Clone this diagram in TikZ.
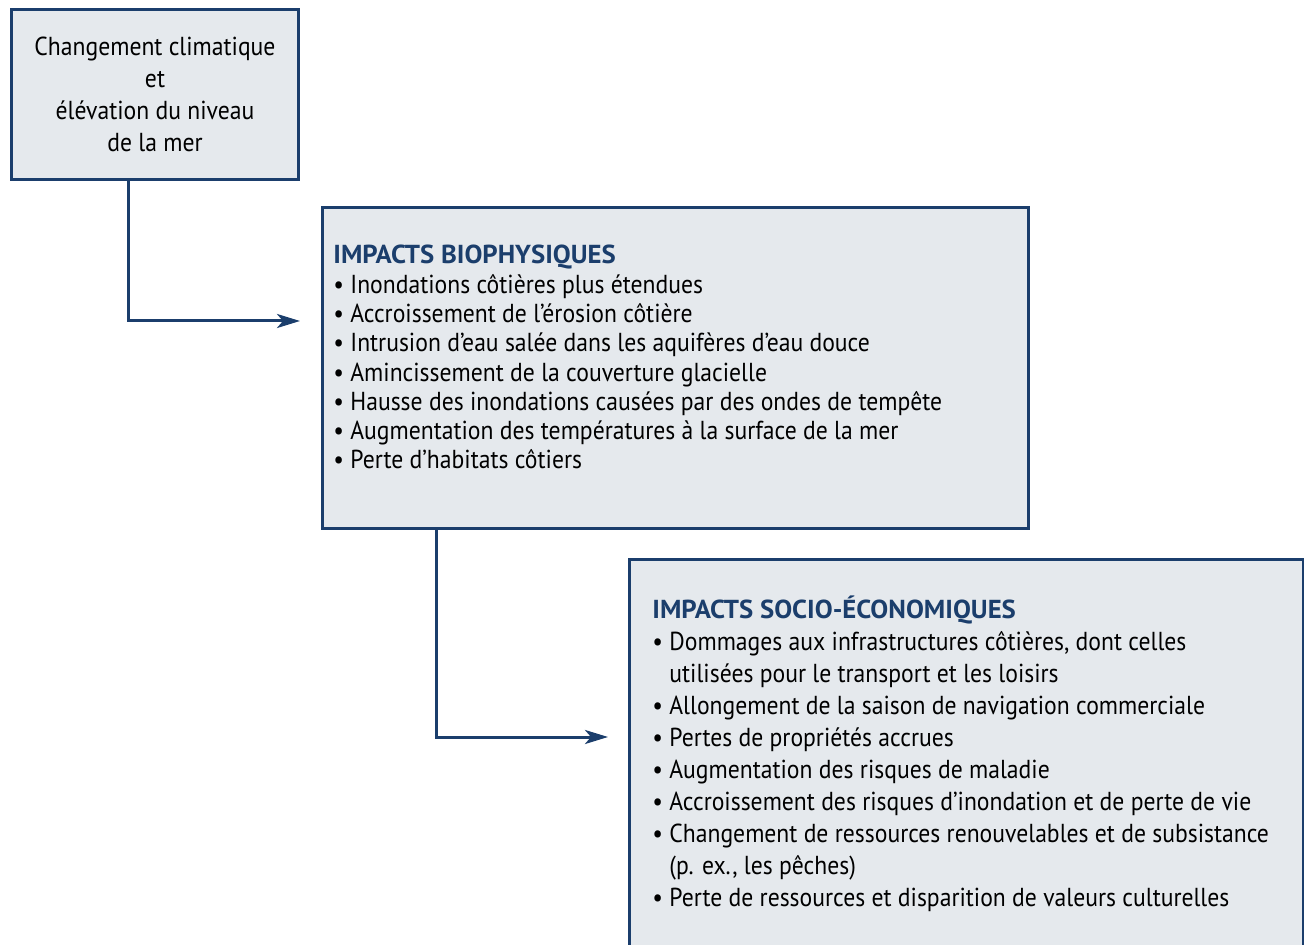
\documentclass[tikz,border=0pt]{standalone}
\usepackage{fontspec}
\setmainfont{PT Sans}[FakeStretch=0.91, BoldFeatures={FakeStretch=1.03}]
\usetikzlibrary{arrows.meta}
\definecolor{deepblue}{HTML}{1B3E6C}
\definecolor{paleblue}{HTML}{E5E9ED}
\tikzset{
  panel/.style={draw=deepblue, line width=1.5pt, fill=paleblue, anchor=north west,
    inner sep=0pt},
  itemlist/.style={anchor=base west, align=left, inner sep=0pt},
  link/.style={draw=deepblue, line width=1.5pt,
    -{Stealth[length=11.5pt,width=7pt,inset=3pt]}},
}
\newcommand{\heading}[1]{{\bfseries\color{deepblue}#1}}
\newcommand{\more}{\hphantom{\textbullet\ }}

\begin{document}
\begin{tikzpicture}[x=0.5pt,y=-0.5pt]
  \useasboundingbox (0,0) rectangle (1304,945);

  \node[panel, align=center, minimum width=143.5pt, minimum height=85pt,
    font=\fontsize{13}{16}\selectfont] (cause) at (10,8)
    {Changement climatique\\et\\élévation du niveau\\de la mer};

  % lists sit on the baseline of their last line
  \node[panel, minimum width=353pt, minimum height=160.5pt] (biophys) at (321,206) {};
  \node[itemlist, font=\fontsize{13}{14.65}\selectfont] (biophysList) at (333,469)
    {\heading{IMPACTS BIOPHYSIQUES}\\
     \textbullet\ Inondations côtières plus étendues\\
     \textbullet\ Accroissement de l’érosion côtière\\
     \textbullet\ Intrusion d’eau salée dans les aquifères d’eau douce\\
     \textbullet\ Amincissement de la couverture glacielle\\
     \textbullet\ Hausse des inondations causées par des ondes de tempête\\
     \textbullet\ Augmentation des températures à la surface de la mer\\
     \textbullet\ Perte d’habitats côtiers};

  \node[panel, minimum width=337pt, minimum height=197.5pt] (socio) at (628,558) {};
  \node[itemlist, font=\fontsize{13}{15.95}\selectfont] (socioList) at (652,906)
    {\heading{IMPACTS SOCIO-ÉCONOMIQUES}\\
     \textbullet\ Dommages aux infrastructures côtières, dont celles\\
     \more utilisées pour le transport et les loisirs\\
     \textbullet\ Allongement de la saison de navigation commerciale\\
     \textbullet\ Pertes de propriétés accrues\\
     \textbullet\ Augmentation des risques de maladie\\
     \textbullet\ Accroissement des risques d’inondation et de perte de vie\\
     \textbullet\ Changement de ressources renouvelables et de subsistance\\
     \more (p. ex., les pêches)\\
     \textbullet\ Perte de ressources et disparition de valeurs culturelles};

  % elbow connectors
  \coordinate (dropA) at (128,0);
  \coordinate (tipA) at (300,321);
  \coordinate (dropB) at (436,0);
  \coordinate (tipB) at (608,737);
  \draw[link] (cause.south -| dropA) |- (tipA);
  \draw[link] (biophys.south -| dropB) |- (tipB);
\end{tikzpicture}
\end{document}
